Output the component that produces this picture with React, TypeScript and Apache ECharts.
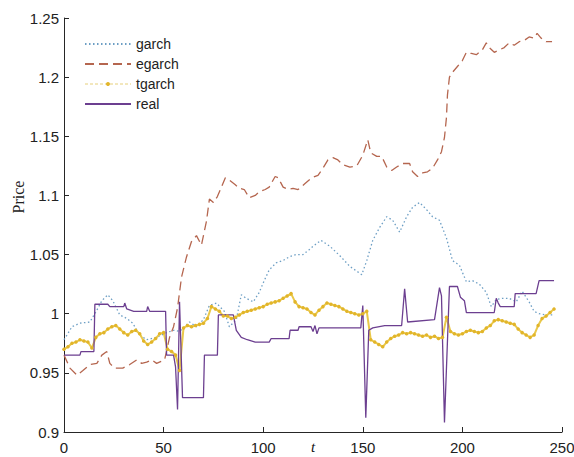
import React, { useEffect, useRef } from "react";
import * as echarts from "echarts";

// ---- data ----
const xTicks = [0, 50, 100, 150, 200, 250];
const yTicks = [0.9, 0.95, 1, 1.05, 1.1, 1.15, 1.2, 1.25];

const garchT = [0, 1.5, 4, 8, 13, 16.5, 19, 22, 24.5, 28, 31.5, 34.5, 38, 41.5, 46.5, 51.5, 55, 58, 60, 63, 66.5, 70, 73, 76.5, 80.5, 83, 86.5, 89, 91.5, 95, 98, 100, 103, 106.5, 110, 113, 116.5, 120, 123, 125, 129, 133.5, 138.5, 143.5, 149.5, 152, 155, 158.5, 162, 165, 168.5, 172, 175, 178.5, 182, 185, 188.5, 192, 195, 198.5, 202, 205, 208.5, 212, 214.5, 217, 220, 223.5, 227, 230, 233.5, 236, 238.5, 242, 246];
const garchV = [0.978, 0.982, 0.989, 0.992, 0.993, 1.003, 1.011, 1.016, 1.011, 0.999, 0.996, 0.992, 0.982, 0.978, 0.98, 0.984, 0.986, 0.985, 0.988, 0.993, 0.989, 0.995, 1.007, 1.009, 1.002, 0.989, 0.995, 1.016, 1.013, 1.01, 1.018, 1.026, 1.037, 1.043, 1.045, 1.048, 1.05, 1.05, 1.054, 1.057, 1.062, 1.057, 1.049, 1.04, 1.033, 1.045, 1.062, 1.073, 1.082, 1.079, 1.069, 1.082, 1.09, 1.094, 1.088, 1.082, 1.079, 1.064, 1.045, 1.041, 1.027, 1.028, 1.025, 1.018, 1.006, 1.012, 1.013, 1.013, 1.01, 1.019, 1.01, 1.002, 1.0, 0.999, 0.999];

const egarchT = [0, 3, 6.5, 9.5, 13, 16.5, 19, 21.5, 23, 25.5, 29.5, 33, 36.5, 39, 41.5, 44, 46.5, 50.5, 53, 55, 57, 59, 61.5, 64, 66.5, 69, 71.5, 73, 75, 77, 79, 81, 83, 86, 88, 90.5, 93, 96, 98, 101, 103, 106, 107.5, 110, 112.5, 115, 117.5, 121, 124.5, 127.5, 130, 132.5, 135, 137.5, 140, 143.5, 147, 150, 152.5, 154, 157, 159.5, 162, 164.5, 167, 170, 173.5, 175, 177.5, 180, 182.5, 185, 187.5, 189.5, 191, 192, 192.5, 193.5, 195, 197.5, 200, 202, 204.5, 207, 210, 212, 213.5, 216, 218.5, 221, 223.5, 226, 228.5, 231, 233.5, 236, 237.5, 239.5, 242, 245];
const egarchV = [0.965, 0.954, 0.948, 0.952, 0.957, 0.958, 0.965, 0.968, 0.958, 0.954, 0.954, 0.957, 0.961, 0.958, 0.959, 0.961, 0.958, 0.961, 0.98, 0.989, 1.005, 1.031, 1.048, 1.061, 1.066, 1.058, 1.078, 1.097, 1.094, 1.099, 1.107, 1.115, 1.113, 1.109, 1.106, 1.105, 1.098, 1.1, 1.103, 1.105, 1.107, 1.116, 1.115, 1.107, 1.105, 1.106, 1.105, 1.11, 1.115, 1.117, 1.123, 1.13, 1.132, 1.13, 1.126, 1.124, 1.125, 1.134, 1.147, 1.136, 1.133, 1.133, 1.124, 1.121, 1.124, 1.127, 1.127, 1.12, 1.116, 1.119, 1.12, 1.123, 1.13, 1.137, 1.149, 1.166, 1.185, 1.2, 1.204, 1.209, 1.214, 1.221, 1.22, 1.219, 1.223, 1.229, 1.225, 1.221, 1.223, 1.225, 1.229, 1.227, 1.23, 1.231, 1.234, 1.233, 1.237, 1.233, 1.23, 1.23];

// tgarch sampled every 2 steps, t = 0, 2, 4, ...
const tgarchV = [0.97, 0.972, 0.975, 0.976, 0.978, 0.977, 0.976, 0.971, 0.98, 0.983, 0.984, 0.987, 0.989, 0.99, 0.987, 0.984, 0.982, 0.985, 0.986, 0.983, 0.977, 0.974, 0.976, 0.979, 0.983, 0.984, 0.97, 0.968, 0.965, 0.952, 0.988, 0.99, 0.989, 0.99, 0.991, 0.992, 0.996, 1.006, 1.004, 1.002, 0.998, 0.998, 0.996, 0.997, 0.999, 1.001, 1.002, 1.003, 1.004, 1.005, 1.006, 1.008, 1.009, 1.01, 1.011, 1.013, 1.015, 1.017, 1.01, 1.006, 1.005, 1.004, 1.001, 0.999, 1.003, 1.006, 1.009, 1.008, 1.007, 1.006, 1.004, 1.002, 1.001, 1.0, 0.999, 1.0, 1.002, 0.978, 0.976, 0.974, 0.972, 0.976, 0.979, 0.981, 0.982, 0.984, 0.983, 0.984, 0.983, 0.982, 0.981, 0.982, 0.98, 0.981, 0.979, 0.98, 0.997, 0.985, 0.983, 0.982, 0.983, 0.985, 0.986, 0.985, 0.984, 0.985, 0.988, 0.99, 0.994, 0.995, 0.994, 0.993, 0.992, 0.991, 0.987, 0.984, 0.982, 0.98, 0.982, 0.99, 0.996, 0.998, 1.001, 1.004];
const tgarchT = tgarchV.map((_, i) => i * 2);

const realT = [0, 8, 8.5, 15, 15.5, 22, 23, 30, 30.5, 31.5, 35, 41.5, 42, 43, 51, 51.5, 55, 56, 57, 58, 59.5, 70, 70.5, 77, 77.5, 85, 86.5, 89, 92, 96, 103, 104, 113, 113.5, 117.5, 118, 124, 125, 126, 127, 128, 149, 150, 151.5, 153, 155, 161, 169.5, 171, 172.5, 186, 188.5, 189.5, 191, 193.5, 197.5, 199, 201, 202, 216, 217, 218, 219, 226, 226.5, 237, 238.5, 246];
const realV = [0.965, 0.965, 0.968, 0.968, 1.008, 1.008, 1.006, 1.006, 1.009, 1.004, 1.002, 1.002, 1.006, 1.002, 1.002, 0.965, 0.965, 0.955, 0.919, 1.01, 0.929, 0.929, 0.965, 0.965, 0.999, 0.999, 0.986, 0.98, 0.978, 0.976, 0.976, 0.979, 0.979, 0.986, 0.986, 0.989, 0.989, 0.985, 0.99, 0.983, 0.988, 0.988, 1.007, 0.912, 0.986, 0.988, 0.99, 0.99, 1.021, 0.993, 0.995, 1.022, 1.015, 0.908, 1.023, 1.023, 1.014, 1.011, 1.001, 1.001, 1.013, 1.009, 1.006, 1.006, 1.017, 1.017, 1.028, 1.028];

const pairs = (t: number[], v: number[]) => t.map((x, i) => [x, v[i]]);

const AXIS = "#262626";
const SANS = "'Liberation Sans', Arial, sans-serif";
const SERIF = "'Liberation Serif', 'Times New Roman', serif";

export default function App() {
  const ref = useRef<HTMLDivElement>(null);
  useEffect(() => {
    if (!ref.current) return;
    const chart = echarts.init(ref.current, undefined, { renderer: "svg" });
    const hidden = { opacity: 0 };
    chart.setOption({
      animation: false,
      backgroundColor: "#ffffff",
      grid: { left: 64, right: 12, top: 18, bottom: 25, containLabel: false, outerBoundsMode: "none" },
      legend: {
        orient: "vertical",
        left: 84,
        top: 37,
        itemWidth: 46,
        itemHeight: 5,
        itemGap: 6,
        padding: 0,
        textStyle: { fontFamily: SANS, fontSize: 14, color: "#222" },
        data: [
          { name: "garch", itemStyle: hidden },
          { name: "egarch", itemStyle: hidden },
          { name: "tgarch", lineStyle: { width: 1, type: [3, 2], color: "#e6cf7a" } },
          { name: "real", itemStyle: hidden },
        ],
      },
      xAxis: {
        type: "value",
        min: 0,
        max: 250,
        interval: 50,
        axisLine: { show: true, lineStyle: { color: AXIS, width: 1 } },
        axisTick: { show: true, inside: true, length: 5, lineStyle: { color: AXIS } },
        axisLabel: {
          fontFamily: SANS,
          fontSize: 15,
          color: "#222",
          margin: 8,
          formatter: (v: number) => (xTicks.includes(v) ? String(v) : ""),
        },
        splitLine: { show: false },
      },
      yAxis: {
        type: "value",
        min: 0.9,
        max: 1.25,
        interval: 0.05,
        axisLine: { show: true, lineStyle: { color: AXIS, width: 1 } },
        axisTick: { show: true, inside: true, length: 5, lineStyle: { color: AXIS } },
        axisLabel: {
          fontFamily: SANS,
          fontSize: 15,
          color: "#222",
          margin: 5,
          formatter: (v: number) => {
            const m = yTicks.find((y) => Math.abs(y - v) < 1e-6);
            return m !== undefined ? String(m) : "";
          },
        },
        splitLine: { show: false },
      },
      graphic: [
        {
          type: "text",
          x: 18,
          y: 197,
          rotation: Math.PI / 2,
          style: {
            text: "Price",
            fontFamily: SERIF,
            fontSize: 16,
            fill: "#222",
            align: "center",
            verticalAlign: "middle",
          },
        },
        {
          type: "text",
          x: 313,
          y: 447,
          style: {
            text: "t",
            fontFamily: SERIF,
            fontStyle: "italic",
            fontSize: 15,
            fill: "#111",
            align: "center",
            verticalAlign: "middle",
          },
        },
      ],
      series: [
        {
          name: "garch",
          type: "line",
          data: pairs(garchT, garchV),
          symbol: "none",
          lineStyle: { color: "#6c9ec4", width: 1.3, type: [1.5, 2.5] },
          itemStyle: { color: "#6c9ec4" },
        },
        {
          name: "egarch",
          type: "line",
          data: pairs(egarchT, egarchV),
          symbol: "none",
          lineStyle: { color: "#b5664f", width: 1.3, type: [9, 5] },
          itemStyle: { color: "#b5664f" },
        },
        {
          name: "tgarch",
          type: "line",
          data: pairs(tgarchT, tgarchV),
          symbol: "circle",
          symbolSize: 3.5,
          lineStyle: { color: "#e9c84a", width: 2 },
          itemStyle: { color: "#e2b52a", borderWidth: 0 },
        },
        {
          name: "real",
          type: "line",
          data: pairs(realT, realV),
          symbol: "none",
          lineStyle: { color: "#6c3f90", width: 1.3 },
          itemStyle: { color: "#6c3f90" },
        },
      ],
    });
    return () => chart.dispose();
  }, []);
  return <div ref={ref} style={{ width: 574, height: 457, position: "absolute", left: 0, top: 0 }} />;
}
